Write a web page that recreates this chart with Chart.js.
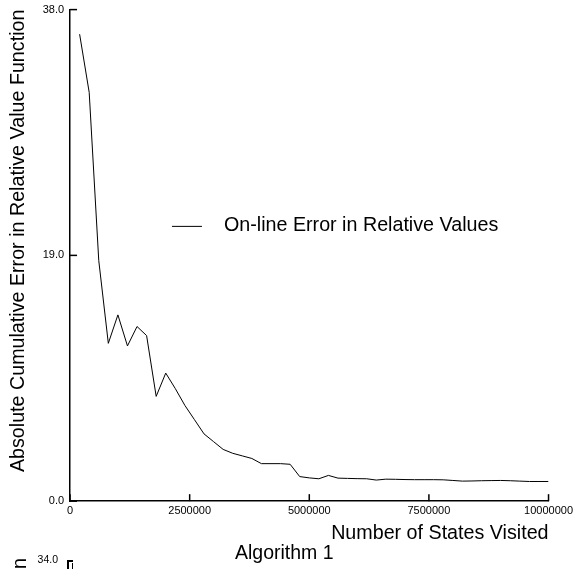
<!DOCTYPE html>
<html>
<head>
<meta charset="utf-8">
<script src="https://cdn.jsdelivr.net/npm/chart.js@4/dist/chart.umd.min.js"></script>
<style>
  html, body { margin: 0; padding: 0; background: #fff; }
  #page { position: relative; width: 574px; height: 569px; overflow: hidden; font-family: "Liberation Sans", Arial, sans-serif; color: #000; }
  #chartBox { position: absolute; left: 0; top: -3px; width: 576px; height: 572px; }
  .txt { position: absolute; white-space: nowrap; }
  #algoTitle { left: 235px; top: 542px; font-size: 19.5px; line-height: 20px; }
  #nextTick { left: 36px; top: 554px; width: 22px; text-align: right; font-size: 10.5px; line-height: 11px; }
  #nextYTitle { left: 7px; top: 1058px; width: 500px; height: 24px; line-height: 24px; font-size: 19.7px; text-align: right; transform-origin: 0 0; transform: rotate(-90deg); }
  .seg { position: absolute; background: #000; }
</style>
</head>
<body>
<div id="page">
  <div id="chartBox"><canvas id="errorChart"></canvas></div>
  <div class="txt" id="algoTitle">Algorithm 1</div>
  <div class="txt" id="nextTick">34.0</div>
  <div class="txt" id="nextYTitle">Absolute Cumulative Error in Relative Value Function</div>
  <div class="seg" style="left:67px; top:560px; width:1.5px; height:9px;"></div>
  <div class="seg" style="left:67px; top:560px; width:6px; height:1.5px;"></div>
  <div class="seg" style="left:71.5px; top:563px; width:1px; height:6px;"></div>
</div>
<script>
// Data
const statesVisited = [
  200000, 400000, 600000, 800000, 1000000, 1200000, 1400000, 1600000, 1800000, 2000000,
  2200000, 2400000, 2600000, 2800000, 3000000, 3200000, 3400000, 3600000, 3800000, 4000000,
  4200000, 4400000, 4600000, 4800000, 5000000, 5200000, 5400000, 5600000, 5800000, 6000000,
  6200000, 6400000, 6600000, 6800000, 7000000, 7200000, 7400000, 7600000, 7800000, 8000000,
  8200000, 8400000, 8600000, 8800000, 9000000, 9200000, 9400000, 9600000, 9800000, 10000000,
];
const onlineError = [
  36.1, 31.6, 18.6, 12.2, 14.4, 12.0, 13.5, 12.8, 8.1, 9.9,
  8.7, 7.4, 6.3, 5.2, 4.6, 4.0, 3.7, 3.5, 3.3, 2.9,
  2.9, 2.9, 2.85, 1.9, 1.8, 1.73, 1.99, 1.78, 1.76, 1.74,
  1.73, 1.63, 1.7, 1.69, 1.67, 1.66, 1.66, 1.66, 1.65, 1.6,
  1.55, 1.56, 1.58, 1.59, 1.6, 1.58, 1.55, 1.52, 1.52, 1.52,
];
const yTicks = [0, 19, 38];
const xTicks = [0, 2500000, 5000000, 7500000, 10000000];

const seriesLabel = 'On-line Error in Relative Values';
const fontFamily = '"Liberation Sans", Arial, sans-serif';

// Inward tick marks plus the legend sitting inside the plot
const plotDecor = {
  id: 'plotDecor',
  afterDraw(chart) {
    const { ctx, chartArea, scales } = chart;
    const w = chartArea.right - chartArea.left;
    const h = chartArea.bottom - chartArea.top;

    ctx.save();
    ctx.strokeStyle = '#000';
    ctx.lineWidth = 1.5;
    yTicks.forEach(v => {
      const y = scales.y.getPixelForValue(v);
      ctx.beginPath();
      ctx.moveTo(chartArea.left, y);
      ctx.lineTo(chartArea.left + 7, y);
      ctx.stroke();
    });
    xTicks.forEach(v => {
      const x = scales.x.getPixelForValue(v);
      ctx.beginPath();
      ctx.moveTo(x, chartArea.bottom);
      ctx.lineTo(x, chartArea.bottom - 7);
      ctx.stroke();
    });

    const x0 = chartArea.left + w * 0.213;
    const y0 = chartArea.top + h * 0.44;
    ctx.lineWidth = 1;
    ctx.beginPath();
    ctx.moveTo(x0, y0 + 0.5);
    ctx.lineTo(x0 + 30, y0 + 0.5);
    ctx.stroke();
    ctx.fillStyle = '#000';
    ctx.font = `19.7px ${fontFamily}`;
    ctx.textBaseline = 'middle';
    ctx.fillText(chart.data.datasets[0].label, x0 + 52, y0);
    ctx.restore();
  },
};

const ctx = document.getElementById('errorChart').getContext('2d');
const errorChart = new Chart(ctx, {
  type: 'line',
  data: {
    datasets: [
      {
        label: seriesLabel,
        data: statesVisited.map((s, i) => ({ x: s, y: onlineError[i] })),
        borderColor: '#000',
        borderWidth: 1,
        pointRadius: 0,
        tension: 0,
        fill: false,
      },
    ],
  },
  options: {
    responsive: true,
    maintainAspectRatio: false,
    animation: false,
    layout: {
      padding: { top: 6, right: 20, bottom: 24, left: 0 },
    },
    plugins: {
      legend: { display: false },
      tooltip: { enabled: false },
    },
    scales: {
      x: {
        type: 'linear',
        min: 0,
        max: 10000000,
        afterBuildTicks: axis => {
          axis.ticks = xTicks.map(v => ({ value: v }));
        },
        ticks: {
          color: '#000',
          padding: 3,
          maxRotation: 0,
          font: { family: fontFamily, size: 11 },
          callback: v => String(v),
        },
        grid: { drawOnChartArea: false, drawTicks: false },
        border: { color: '#000', width: 1.5 },
        title: {
          display: true,
          text: 'Number of States Visited',
          align: 'end',
          color: '#000',
          font: { family: fontFamily, size: 19.7 },
          padding: { top: 1, bottom: 0 },
        },
      },
      y: {
        type: 'linear',
        min: 0,
        max: 38,
        afterBuildTicks: axis => {
          axis.ticks = yTicks.map(v => ({ value: v }));
        },
        ticks: {
          color: '#000',
          padding: 6,
          font: { family: fontFamily, size: 11 },
          callback: v => v.toFixed(1),
        },
        grid: { drawOnChartArea: false, drawTicks: false },
        border: { color: '#000', width: 1.5 },
        title: {
          display: true,
          text: 'Absolute Cumulative Error in Relative Value Function',
          align: 'end',
          color: '#000',
          font: { family: fontFamily, size: 19.7 },
          padding: { top: 6.5, bottom: 6.5 },
        },
      },
    },
  },
  plugins: [plotDecor],
});
</script>
</body>
</html>
